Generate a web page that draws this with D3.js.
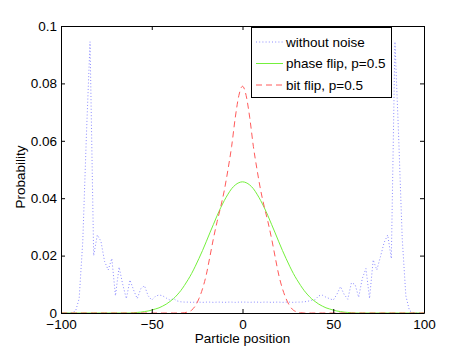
<!DOCTYPE html>
<html lang="en">
<head>
    <meta charset="UTF-8">
    <title>Particle position probability</title>
    <script src="https://d3js.org/d3.v7.min.js"></script>
    <style>
        body {
            margin: 0;
            padding: 0;
            background: white;
            font-family: 'Liberation Sans', Arial, sans-serif;
        }
    </style>
</head>
<body>
    <div id="d3-container"></div>
    <script>
        // positions -100..100 (even sites only)
        var positions = d3.range(-100, 101, 2);

        var withoutNoise = [
            0, 0, 0, 0.0002, 0.0006, 0.005, 0.025, 0.062, 0.0945, 0.020,
            0.0272, 0.025, 0.018, 0.015, 0.019, 0.006, 0.016, 0.010, 0.005, 0.0115,
            0.008, 0.005, 0.0085, 0.0095, 0.006, 0.0045, 0.0058, 0.0063, 0.006, 0.0052,
            0.0045, 0.005, 0.0042, 0.0039,
            0.0038, 0.0038, 0.0037, 0.0038, 0.0038, 0.0037, 0.0038, 0.0038, 0.0037, 0.0038,
            0.0038, 0.0037, 0.0038, 0.0038, 0.0037, 0.0038, 0.0038, 0.0038, 0.0037, 0.0038,
            0.0038, 0.0037, 0.0038, 0.0038, 0.0037, 0.0038, 0.0038, 0.0037, 0.0038, 0.0038,
            0.0037, 0.0038, 0.0038,
            0.0039, 0.0041, 0.0044, 0.0046, 0.0060, 0.0062, 0.0055, 0.0050, 0.0045, 0.0065,
            0.0092, 0.0065, 0.0048, 0.0105, 0.0100, 0.0055, 0.0120, 0.0155, 0.0051, 0.0185,
            0.0150, 0.0196, 0.0245, 0.0272, 0.0190, 0.0945, 0.0620, 0.0260, 0.0060, 0.0008,
            0.0002, 0, 0, 0
        ];

        var phaseFlip = [
            0, 0, 0, 0, 0, 0, 0, 0, 0, 0,
            0, 0, 0, 0, 0, 0, 0, 0, 0, 0,
            0.0001, 0.0002, 0.0003, 0.0005, 0.0007, 0.0010, 0.0014, 0.0018, 0.0024, 0.0031,
            0.0040, 0.0050, 0.0063, 0.0078, 0.0096, 0.0116, 0.0138, 0.0163, 0.0190, 0.0218,
            0.0248, 0.0279, 0.0309, 0.0339, 0.0367, 0.0392, 0.0414, 0.0433, 0.0446, 0.0454,
            0.0457,
            0.0454, 0.0446, 0.0433, 0.0414, 0.0392, 0.0367, 0.0339, 0.0309, 0.0279, 0.0248,
            0.0218, 0.0190, 0.0163, 0.0138, 0.0116, 0.0096, 0.0078, 0.0063, 0.0050, 0.0040,
            0.0031, 0.0024, 0.0018, 0.0014, 0.0010, 0.0007, 0.0005, 0.0003, 0.0002, 0.0001,
            0, 0, 0, 0, 0, 0, 0, 0, 0, 0,
            0, 0, 0, 0, 0, 0, 0, 0, 0, 0
        ];

        var bitFlip = [
            0, 0, 0, 0, 0, 0, 0, 0, 0, 0,
            0, 0, 0, 0, 0, 0, 0, 0, 0, 0,
            0, 0, 0, 0, 0, 0, 0, 0, 0, 0,
            0, 0, 0, 0,
            0.0001, 0.0004, 0.0010, 0.0025, 0.0050, 0.0085, 0.0132, 0.0195, 0.0260, 0.0318,
            0.0370, 0.0428, 0.0500, 0.0580, 0.0680, 0.0758,
            0.0790,
            0.0758, 0.0680, 0.0580, 0.0500, 0.0428, 0.0370, 0.0318, 0.0260, 0.0195, 0.0132,
            0.0085, 0.0050, 0.0025, 0.0010, 0.0004, 0.0001,
            0, 0, 0, 0,
            0, 0, 0, 0, 0, 0, 0, 0, 0, 0,
            0, 0, 0, 0, 0, 0, 0, 0, 0, 0,
            0, 0, 0, 0, 0, 0, 0, 0, 0, 0
        ];

        var xTicks = [-100, -50, 0, 50, 100];
        var yTicks = [0, 0.02, 0.04, 0.06, 0.08, 0.1];
        var seriesNames = ["without noise", "phase flip, p=0.5", "bit flip, p=0.5"];

        (function() {
        var width = 469;
        var height = 352;
        var plotLeft = 61, plotRight = 424, plotTop = 26, plotBottom = 313;

        var xScale = d3.scaleLinear().domain([-100, 100]).range([plotLeft, plotRight]);
        var yScale = d3.scaleLinear().domain([0, 0.1]).range([plotBottom, plotTop]);

        var svg = d3.select("#d3-container").append("svg")
            .attr("width", width)
            .attr("height", height)
            .style("font-family", "'Liberation Sans', Arial, sans-serif");

        svg.append("rect")
            .attr("width", width)
            .attr("height", height)
            .attr("fill", "white");

        var styles = [
            { color: "#8c8cff", dash: "1,2.2", width: 1 },
            { color: "#74f03c", dash: null, width: 1 },
            { color: "#ff5a5a", dash: "6,4", width: 1 }
        ];

        var series = [withoutNoise, phaseFlip, bitFlip];

        var plot = svg.append("g");

        series.forEach(function(vals, i) {
            var line = d3.line()
                .x(function(d, j) { return xScale(positions[j]); })
                .y(function(d) { return yScale(d); })
                .curve(i === 0 ? d3.curveLinear : d3.curveMonotoneX);

            plot.append("path")
                .datum(vals)
                .attr("d", line)
                .attr("fill", "none")
                .attr("stroke", styles[i].color)
                .attr("stroke-width", styles[i].width)
                .attr("stroke-dasharray", styles[i].dash);
        });

        // axes, ticks pointing inward on all four sides
        var fmtY = function(d) { return d3.format("~g")(d); };

        svg.append("g")
            .attr("transform", "translate(0," + plotBottom + ")")
            .call(d3.axisBottom(xScale).tickValues(xTicks).tickSizeInner(-4).tickSizeOuter(0).tickPadding(6));

        svg.append("g")
            .attr("transform", "translate(0," + plotTop + ")")
            .call(d3.axisTop(xScale).tickValues(xTicks).tickSizeInner(-4).tickSizeOuter(0).tickFormat(""));

        svg.append("g")
            .attr("transform", "translate(" + plotLeft + ",0)")
            .call(d3.axisLeft(yScale).tickValues(yTicks).tickFormat(fmtY).tickSizeInner(-4).tickSizeOuter(0).tickPadding(4));

        svg.append("g")
            .attr("transform", "translate(" + plotRight + ",0)")
            .call(d3.axisRight(yScale).tickValues(yTicks).tickSizeInner(-4).tickSizeOuter(0).tickFormat(""));

        svg.selectAll(".domain").attr("stroke", "#000");
        svg.selectAll(".tick line").attr("stroke", "#000");
        svg.selectAll(".tick text")
            .style("font-size", "13.5px")
            .style("font-family", "'Liberation Sans', Arial, sans-serif")
            .attr("fill", "#000");

        // axis labels
        svg.append("text")
            .attr("x", (plotLeft + plotRight) / 2)
            .attr("y", 343)
            .attr("text-anchor", "middle")
            .style("font-size", "13.5px")
            .text("Particle position");

        svg.append("text")
            .attr("transform", "translate(25,177) rotate(-90)")
            .attr("text-anchor", "middle")
            .style("font-size", "13.5px")
            .text("Probability");

        // legend
        var legend = svg.append("g");

        legend.append("rect")
            .attr("x", 251.5)
            .attr("y", 27.5)
            .attr("width", 140)
            .attr("height", 70)
            .attr("fill", "white")
            .attr("stroke", "#000")
            .attr("stroke-width", 1);

        var legendItems = legend.selectAll(".legend-item")
            .data(seriesNames)
            .enter()
            .append("g")
            .attr("class", "legend-item")
            .attr("transform", function(d, i) {
                return "translate(0," + (42 + i * 21.5) + ")";
            });

        legendItems.append("line")
            .attr("x1", 256)
            .attr("x2", 283)
            .attr("stroke", function(d, i) { return styles[i].color; })
            .attr("stroke-width", function(d, i) { return styles[i].width; })
            .attr("stroke-dasharray", function(d, i) { return styles[i].dash; });

        legendItems.append("text")
            .attr("x", 286)
            .attr("dy", "0.35em")
            .style("font-size", "13.5px")
            .text(function(d) { return d; });
        })();
    </script>
</body>
</html>
